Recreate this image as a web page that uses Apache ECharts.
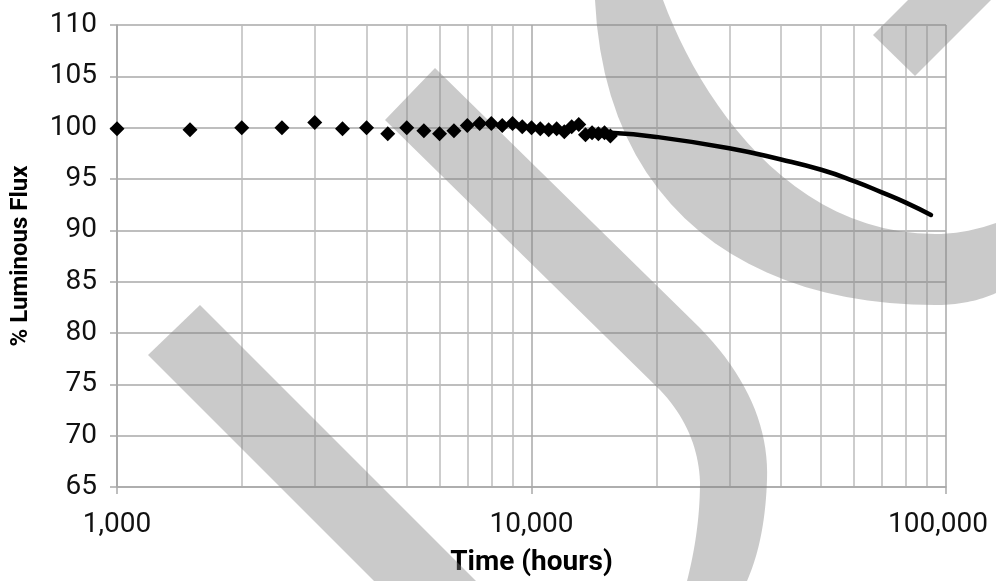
<!DOCTYPE html>
<html>
<head>
<meta charset="utf-8">
<script src="https://cdn.jsdelivr.net/npm/echarts@6.0.0/dist/echarts.min.js"></script>
<style>
  html, body { margin: 0; padding: 0; background: #fff; }
  #main { width: 996px; height: 581px; }
</style>
</head>
<body>
<div id="main"></div>
<script>
'use strict'

const measuredHours = [1000, 1500, 2000, 2500, 3000, 3500, 4000, 4500, 5000, 5500,
  6000, 6500, 7000, 7500, 8000, 8500, 9000, 9500, 10000, 10500,
  11000, 11500, 12000, 12500, 13000, 13500, 14000, 14500, 15000, 15500];
const measuredFlux = [99.9, 99.8, 100.0, 100.0, 100.5, 99.9, 100.0, 99.4, 100.0, 99.7,
  99.4, 99.7, 100.2, 100.4, 100.4, 100.2, 100.4, 100.1, 100.0, 99.9,
  99.8, 99.9, 99.6, 100.1, 100.3, 99.3, 99.5, 99.4, 99.5, 99.2];

// projected curve
const projHours = [15500, 20000, 30000, 40000, 50000, 60000, 70000, 80000, 92000];
const projFlux = [99.5, 99.1, 98.0, 96.9, 95.9, 94.8, 93.7, 92.7, 91.5];

// minor vertical grid lines of the log axis
const minorHours = [2000, 3000, 4000, 5000, 6000, 7000, 8000, 9000,
  20000, 30000, 40000, 50000, 60000, 70000, 80000, 90000];

const yTicks = { min: 65, max: 110, step: 5 };
const xRange = { min: 1000, max: 100000 };

var myChart = echarts.init(document.getElementById('main'));

const gridColor = '#a9a9a9';
const wmFill = 'rgba(128,128,128,0.42)';

// turn a simple path (M/L/Q/C segments, pixel coords) into polygon points
function outline(segs) {
  let pts = [];
  let cur = [0, 0];
  segs.forEach(function (s) {
    if (s[0] === 'M' || s[0] === 'L') {
      cur = [s[1], s[2]];
      pts.push(cur);
    } else if (s[0] === 'Q') {
      let p0 = cur;
      for (let k = 1; k <= 20; k++) {
        let t = k / 20, u = 1 - t;
        pts.push([u * u * p0[0] + 2 * u * t * s[1] + t * t * s[3],
                  u * u * p0[1] + 2 * u * t * s[2] + t * t * s[4]]);
      }
      cur = [s[3], s[4]];
    } else if (s[0] === 'C') {
      let p0 = cur;
      for (let k = 1; k <= 24; k++) {
        let t = k / 24, u = 1 - t;
        pts.push([u * u * u * p0[0] + 3 * u * u * t * s[1] + 3 * u * t * t * s[3] + t * t * t * s[5],
                  u * u * u * p0[1] + 3 * u * u * t * s[2] + 3 * u * t * t * s[4] + t * t * t * s[6]]);
      }
      cur = [s[5], s[6]];
    }
  });
  return pts;
}

// watermark strokes (page pixels, not data)
var watermark = [
  [['M', 148, 355], ['L', 200, 305], ['L', 476, 581], ['L', 374, 581]],
  [['M', 385, 120], ['L', 435, 68], ['L', 700, 328], ['Q', 770, 400, 767, 480], ['Q', 765, 540, 747, 581],
   ['L', 687, 581], ['Q', 700, 530, 700, 482], ['Q', 698, 430, 660, 390]],
  [['M', 595, 0], ['C', 605, 210, 750, 305, 935, 305], ['Q', 970, 305, 996, 293], ['L', 996, 223],
   ['Q', 965, 234, 935, 234], ['C', 790, 234, 700, 100, 663, 0]],
  [['M', 873, 35], ['L', 908, 0], ['L', 991, 0], ['L', 915, 76]]
];

var scatterData = measuredHours.map(function (h, i) { return [h, measuredFlux[i]]; });
var lineData = projHours.map(function (h, i) { return [h, projFlux[i]]; });

var option = {
  backgroundColor: '#fff',
  animation: false,
  textStyle: { fontFamily: 'Roboto' },
  grid: { left: 117, right: 50, top: 25, bottom: 94, outerBoundsMode: 'none', containLabel: false },
  xAxis: {
    type: 'log',
    logBase: 10,
    min: xRange.min,
    max: xRange.max,
    name: 'Time (hours)',
    nameLocation: 'middle',
    nameGap: 62,
    nameTextStyle: { fontSize: 28, fontWeight: 'bold', color: '#000', fontFamily: 'Roboto' },
    axisLine: { lineStyle: { color: gridColor, width: 1.5 } },
    axisTick: { show: true, length: 7, lineStyle: { color: gridColor, width: 1.5 } },
    axisLabel: {
      fontSize: 28, color: '#111', margin: 24,
      formatter: function (v) {
        let s = Math.round(v).toLocaleString('en-US');
        // last label is kept inside the page, like the original
        return Math.round(v) === xRange.max ? '{last|' + s + '}' : s;
      },
      rich: { last: { fontSize: 28, color: '#111', fontFamily: 'Roboto', padding: [0, 16, 0, 0] } }
    },
    splitLine: { show: true, lineStyle: { color: gridColor, width: 1.5 } }
  },
  yAxis: {
    type: 'value',
    min: yTicks.min,
    max: yTicks.max,
    interval: yTicks.step,
    name: '% Luminous Flux',
    nameLocation: 'middle',
    nameGap: 84,
    nameTextStyle: { fontSize: 24, fontWeight: 'bold', color: '#000', fontFamily: 'Roboto' },
    axisLine: { show: true, lineStyle: { color: gridColor, width: 1.5 } },
    axisTick: { show: true, length: 7, lineStyle: { color: gridColor, width: 1.5 } },
    axisLabel: { fontSize: 28, color: '#111', margin: 20 },
    splitLine: { show: true, lineStyle: { color: gridColor, width: 1.5 } }
  },
  graphic: {
    z: 1,
    elements: watermark.map(function (segs) {
      return {
        type: 'polygon',
        z: 1,
        silent: true,
        shape: { points: outline(segs) },
        style: { fill: wmFill }
      };
    })
  },
  series: [
    {
      type: 'line',
      data: [],
      z: 0,
      silent: true,
      markLine: {
        silent: true,
        symbol: 'none',
        z: 0,
        label: { show: false },
        lineStyle: { color: '#bdbdbd', width: 1.5, type: 'solid', opacity: 1 },
        data: minorHours.map(function (h) { return { xAxis: h }; })
      }
    },
    {
      type: 'line',
      data: lineData,
      smooth: true,
      showSymbol: false,
      z: 100,
      lineStyle: { color: '#000', width: 4.5, cap: 'round' }
    },
    {
      type: 'scatter',
      data: scatterData,
      symbol: 'diamond',
      symbolSize: 15,
      z: 101,
      itemStyle: { color: '#000', opacity: 1 }
    }
  ]
};

myChart.setOption(option);
</script>
</body>
</html>
